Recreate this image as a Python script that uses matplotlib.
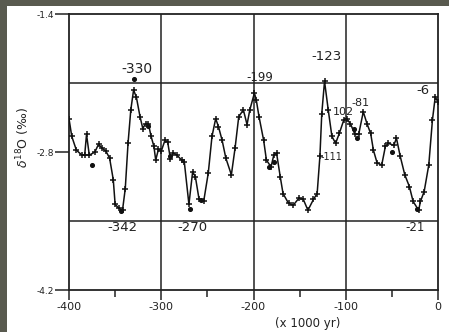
import matplotlib.pyplot as plt
from matplotlib.patches import Rectangle

# smoothed record (age in kyr, d18O in permil)
age = [-400, -397, -392, -386, -383, -381, -378, -372, -368, -364, -360, -356,
       -352, -350, -346, -342, -339, -336, -333, -330, -327, -323, -320, -317,
       -314, -311, -308, -306, -303, -300, -296, -293, -290, -287, -283, -278,
       -275, -270, -266, -263, -259, -254, -249, -245, -241, -238, -234, -230,
       -224, -220, -216, -211, -207, -204, -199, -197, -194, -189, -186, -181,
       -178, -175, -171, -168, -162, -157, -151, -146, -141, -135, -131, -128,
       -126, -123, -119, -115, -111, -107, -102, -99, -95, -90, -86, -81,
       -77, -73, -70, -66, -61, -57, -54, -48, -45, -41, -36, -31,
       -27, -21, -19, -15, -10, -6, -3, 0]
d18o = [-2.46, -2.64, -2.78, -2.83, -2.83, -2.62, -2.83, -2.80, -2.72, -2.76, -2.79, -2.86,
        -3.08, -3.33, -3.37, -3.39, -3.17, -2.71, -2.37, -2.17, -2.24, -2.44, -2.56, -2.51,
        -2.51, -2.64, -2.74, -2.88, -2.77, -2.79, -2.68, -2.70, -2.87, -2.81, -2.83, -2.88,
        -2.90, -3.33, -3.00, -3.05, -3.28, -3.30, -3.01, -2.64, -2.46, -2.54, -2.68, -2.86,
        -3.03, -2.76, -2.44, -2.37, -2.52, -2.37, -2.20, -2.27, -2.44, -2.68, -2.88, -2.95,
        -2.83, -2.81, -3.05, -3.22, -3.32, -3.34, -3.27, -3.28, -3.39, -3.28, -3.22, -2.84,
        -2.41, -2.08, -2.37, -2.64, -2.71, -2.61, -2.47, -2.46, -2.51, -2.62, -2.62, -2.39,
        -2.51, -2.61, -2.78, -2.91, -2.93, -2.74, -2.71, -2.73, -2.66, -2.84, -3.03, -3.15,
        -3.30, -3.39, -3.30, -3.20, -2.93, -2.47, -2.24, -2.29]

# individual measurements lying off the curve
pt_age = [-375, -330, -344, -314, -290, -269, -257, -183, -178, -91, -88, -50, -23]
pt_d18o = [-2.93, -2.06, -3.40, -2.53, -2.84, -3.38, -3.29, -2.95, -2.90, -2.56, -2.66, -2.80, -3.38]

# labelled extremes (label text, peak age, text placement)
lab_text = ['-330', '-199', '-123', '-6', '102', '-81', '-111', '-342', '-270', '-21']
lab_x = [-330, -199, -123, -6, -102, -81, -111, -342, -270, -21]
lab_y = [-1.96, -2.04, -1.83, -2.17, -2.39, -2.30, -2.85, -3.57, -3.57, -3.57]
lab_size = [10, 8.5, 9.5, 9.5, 8, 8, 7, 9.5, 9.5, 8.5]
lab_dx = [4, 6, 2, -10, -1, -3, -4, 0, 4, -4]

fig = plt.figure(figsize=(4.49, 3.32), dpi=100, facecolor='#595a4f')
fig.add_artist(Rectangle((7 / 449, 0), 1, 1 - 6 / 332, transform=fig.transFigure,
                         facecolor='white', edgecolor='none', zorder=-10))

ax = fig.add_axes([69 / 449, 1 - 290 / 332, 369 / 449, 275.7 / 332])
ax.set_facecolor('white')
ax.set_xlim(-400, 0)
ax.set_ylim(-4.2, -1.4)

for xv in [-300, -200, -100]:
    ax.axvline(xv, color='#222222', lw=1.1, zorder=1)
for yv in [-2.1, -3.5]:
    ax.axhline(yv, color='#222222', lw=1.1, zorder=1)

ax.plot(age, d18o, color='#111111', lw=1.1, marker='+', ms=4, mew=1.1, zorder=3)
ax.scatter(pt_age, pt_d18o, s=7, color='#111111', zorder=3)

for t, x, y, s, dx in zip(lab_text, lab_x, lab_y, lab_size, lab_dx):
    ax.text(x + dx, y, t, fontsize=s, ha='center', va='center', color='#222222')

for sp in ax.spines.values():
    sp.set_linewidth(1.3)
    sp.set_color('#222222')

ax.set_xticks([-400, -300, -200, -100, 0])
ax.set_xticklabels(['-400', '-300', '-200', '-100', '0'])
ax.set_xticks([-350, -250, -150, -50], minor=True)
ax.set_yticks([-4.2, -2.8, -1.4])
ax.set_yticklabels(['-4.2', '-2.8', '-1.4'])
ax.tick_params(axis='x', which='major', length=7, width=1.1, labelsize=8, pad=2, colors='#222222')
ax.tick_params(axis='x', which='minor', length=5, width=1.1, colors='#222222')
ax.tick_params(axis='y', length=10, width=1.1, labelsize=6.5, pad=1, colors='#222222')

ax.set_xlabel('(x 1000 yr)', fontsize=8.5, color='#222222', va='center')
ax.xaxis.set_label_coords((308 - 69) / 369, -33 / 275.7)
ax.set_ylabel(r'$\delta^{18}$O (‰)', fontsize=9, color='#222222', va='center')
ax.yaxis.set_label_coords(-46 / 369, (290 - 137) / 275.7)

fig.savefig('out.png', dpi=100, facecolor=fig.get_facecolor())
